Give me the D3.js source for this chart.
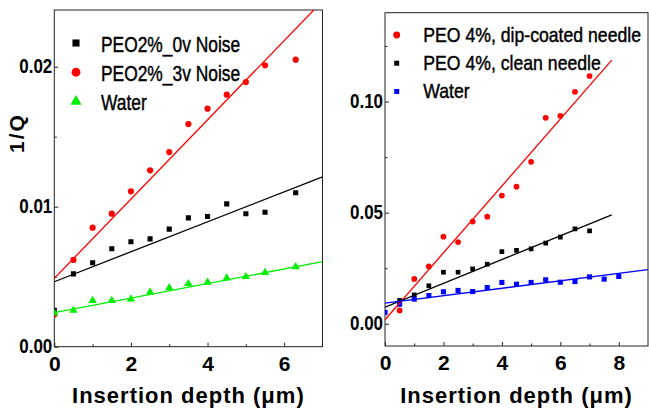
<!DOCTYPE html>
<html>
<head>
<meta charset="utf-8">
<script src="https://cdn.jsdelivr.net/npm/d3@7"></script>
<style>
  body { margin: 0; background: #fff; }
  svg { display: block; font-family: "Liberation Sans", Arial, sans-serif; }
</style>
</head>
<body>
<div class="chart"></div>
<script>
// ---- left panel data (PEO 2%) ----
var leftX = [0, 0.5, 1, 1.5, 2, 2.5, 3, 3.5, 4, 4.5, 5, 5.5, 6.3];
var peo2_0v = [0.0026, 0.0052, 0.0060, 0.0070, 0.0075, 0.0077, 0.0084, 0.0092, 0.0093, 0.0102, 0.0095, 0.0096, 0.0110];
var peo2_3v = [0.0023, 0.0062, 0.0085, 0.0095, 0.0111, 0.0126, 0.0139, 0.0159, 0.0170, 0.0180, 0.0189, 0.0201, 0.0205];
var water2 = [0.0024, 0.0026, 0.0033, 0.0033, 0.0034, 0.0039, 0.0042, 0.0045, 0.0046, 0.0049, 0.0050, 0.0053, 0.0057];
// fit lines: [intercept, slope, x end]
var fit2_0v = [0.00464, 0.00107, 7];
var fit2_3v = [0.00488, 0.00283, 7];
var fit2_w = [0.00243, 0.00052, 7];
var leftXTicks = [0, 2, 4, 6];
var leftYTicks = [0, 0.01, 0.02];
var leftLabels = ["PEO2%_0v Noise", "PEO2%_3v Noise", "Water"];

// ---- right panel data (PEO 4%) ----
var peoX = [0.5, 1, 1.5, 2, 2.5, 3, 3.5, 4, 4.5, 5, 5.5, 6, 6.5, 7];
var peo4_dip = [0.0060, 0.0202, 0.0258, 0.0392, 0.0368, 0.0460, 0.0482, 0.0577, 0.0617, 0.0729, 0.0927, 0.0936, 0.1044, 0.1115];
var peo4_clean = [0.0105, 0.0130, 0.0171, 0.0232, 0.0232, 0.0247, 0.0268, 0.0325, 0.0330, 0.0337, 0.0363, 0.0390, 0.0427, 0.0418];
var waterX = [0, 0.5, 1, 1.5, 2, 2.5, 3, 3.5, 4, 4.5, 5, 5.5, 6, 6.5, 7, 7.5, 8];
var water4 = [0.0051, 0.0088, 0.0111, 0.0127, 0.0144, 0.0150, 0.0145, 0.0163, 0.0186, 0.0178, 0.0186, 0.0198, 0.0187, 0.0190, 0.0211, 0.0201, 0.0213];
var fit4_dip = [0.0018, 0.01506, 7.76];
var fit4_clean = [0.0075, 0.00535, 7.76];
var fit4_w = [0.0093, 0.00167, 9];
var rightXTicks = [0, 2, 4, 6, 8];
var rightYTicks = [0, 0.05, 0.10];
var rightLabels = ["PEO 4%, dip-coated needle", "PEO 4%, clean needle", "Water"];

var xTitle = "Insertion depth (\u03bcm)";

var svg = d3.select('.chart')
  .append('svg')
	.attr('width', 649)
	.attr('height', 408);

// squash text horizontally, the original uses a tight condensed look
function squeeze(sel, k) {
  sel.each(function() {
	var w = this.getComputedTextLength();
	d3.select(this).attr('textLength', w * k).attr('lengthAdjust', 'spacingAndGlyphs');
  });
}

function panel(opt) {
  var x = d3.scaleLinear().domain(opt.xDomain).range(opt.xRange);
  var y = d3.scaleLinear().domain(opt.yDomain).range(opt.yRange);
  var g = svg.append('g');
  var clipId = 'clip' + opt.id;

  g.append('clipPath').attr('id', clipId)
	.append('rect')
	.attr('x', opt.xRange[0]).attr('y', opt.yRange[1])
	.attr('width', opt.xRange[1] - opt.xRange[0])
	.attr('height', opt.yRange[0] - opt.yRange[1]);

  // minor ticks
  g.append('g')
	.attr('transform', `translate(0, ${opt.yRange[0]})`)
	.call(d3.axisBottom(x).tickValues(opt.xMinor).tickSize(-2.5).tickFormat(''))
	.call(a => a.select('.domain').remove());
  g.append('g')
	.attr('transform', `translate(${opt.xRange[0]}, 0)`)
	.call(d3.axisLeft(y).tickValues(opt.yMinor).tickSize(-2.5).tickFormat(''))
	.call(a => a.select('.domain').remove());

  var xAxis = g.append('g')
	.attr('transform', `translate(0, ${opt.yRange[0]})`)
	.call(d3.axisBottom(x).tickValues(opt.xTicks).tickSize(-4).tickPadding(9).tickFormat(d3.format('d')));
  xAxis.select('.domain').remove();
  xAxis.selectAll('text')
	.attr('font-size', 21).attr('font-weight', 'bold').attr('fill', '#000')
	.attr('font-family', '"Liberation Sans", Arial, sans-serif');

  var yAxis = g.append('g')
	.attr('transform', `translate(${opt.xRange[0]}, 0)`)
	.call(d3.axisLeft(y).tickValues(opt.yTicks).tickSize(-4).tickPadding(2).tickFormat(d3.format('.2f')));
  yAxis.select('.domain').remove();
  yAxis.selectAll('text')
	.attr('font-size', 19.5).attr('font-weight', 'bold').attr('fill', '#000')
	.attr('font-family', '"Liberation Sans", Arial, sans-serif')
	.attr('dy', '0.3em')
	.call(squeeze, 0.87);
  g.selectAll('.tick line').attr('stroke', '#222');

  // box
  g.append('rect')
	.attr('x', opt.xRange[0]).attr('y', opt.yRange[1])
	.attr('width', opt.xRange[1] - opt.xRange[0])
	.attr('height', opt.yRange[0] - opt.yRange[1])
	.attr('fill', 'none').attr('stroke', '#222').attr('stroke-width', 1);

  var plot = g.append('g').attr('clip-path', `url(#${clipId})`);

  opt.series.forEach(function(s) {
	var pts = s.x.map((d, i) => [d, s.y[i]]);
	var sym = d3.symbol().type(s.shape).size(s.size);
	plot.selectAll(null)
	  .data(pts)
	  .enter()
	  .append('path')
	  .attr('d', sym)
	  .attr('transform', d => `translate(${x(d[0])}, ${y(d[1])})`)
	  .attr('fill', s.color);
  });

  opt.series.forEach(function(s) {
	var f = s.fit;
	plot.append('line')
	  .attr('x1', x(0)).attr('y1', y(f[0]))
	  .attr('x2', x(f[2])).attr('y2', y(f[0] + f[1] * f[2]))
	  .attr('stroke', s.color)
	  .attr('stroke-width', 1.3);
  });

  // legend
  opt.series.forEach(function(s, i) {
	var l = opt.legend;
	var sym = d3.symbol().type(s.shape).size(s.legendSize);
	g.append('path')
	  .attr('d', sym)
	  .attr('transform', `translate(${l.x}, ${l.y + i * l.dy - l.markerUp})`)
	  .attr('fill', s.color);
	g.append('text')
	  .attr('x', l.x + l.gap)
	  .attr('y', l.y + i * l.dy)
	  .attr('font-size', l.fontSize)
	  .attr('fill', '#000')
	  .attr('stroke', '#000')
	  .attr('stroke-width', 0.45)
	  .text(opt.labels[i])
	  .call(squeeze, l.squeeze);
  });

  g.append('text')
	.attr('x', (opt.xRange[0] + opt.xRange[1]) / 2)
	.attr('y', 402.5)
	.attr('text-anchor', 'middle')
	.attr('font-size', 22)
	.attr('font-weight', 'bold')
	.attr('letter-spacing', 1)
	.text(xTitle);

  return g;
}

panel({
  id: 'L',
  xDomain: [0, 7], xRange: [54.3, 322.5],
  yDomain: [0, 0.02405], yRange: [346.7, 10],
  xTicks: leftXTicks, xMinor: [1, 3, 5],
  yTicks: leftYTicks, yMinor: [0.005, 0.015],
  labels: leftLabels,
  legend: {x: 76, y: 51.5, dy: 29.2, gap: 25, markerUp: 8.5, fontSize: 22, squeeze: 0.79},
  series: [
	{x: leftX, y: peo2_0v, color: '#000', fit: fit2_0v, shape: d3.symbolSquare, size: 26, legendSize: 50},
	{x: leftX, y: peo2_3v, color: '#ff0000', fit: fit2_3v, shape: d3.symbolCircle, size: 30, legendSize: 62},
	{x: leftX, y: water2, color: '#00ee00', fit: fit2_w, shape: d3.symbolTriangle, size: 30, legendSize: 55}
  ]
});

panel({
  id: 'R',
  xDomain: [0, 9], xRange: [385, 648],
  yDomain: [-0.01, 0.14], yRange: [346, 12.7],
  xTicks: rightXTicks, xMinor: [1, 3, 5, 7],
  yTicks: rightYTicks, yMinor: [0.025, 0.075, 0.125],
  labels: rightLabels,
  legend: {x: 396.7, y: 41.7, dy: 28.3, gap: 26.6, markerUp: 6.8, fontSize: 21, squeeze: 0.84},
  series: [
	{x: peoX, y: peo4_dip, color: '#ff0000', fit: fit4_dip, shape: d3.symbolCircle, size: 26, legendSize: 38},
	{x: peoX, y: peo4_clean, color: '#000', fit: fit4_clean, shape: d3.symbolSquare, size: 22, legendSize: 25},
	{x: waterX, y: water4, color: '#0000ff', fit: fit4_w, shape: d3.symbolSquare, size: 26, legendSize: 25}
  ]
});

// y title, left panel
svg.append('text')
  .attr('transform', 'translate(24, 133) rotate(-90)')
  .attr('text-anchor', 'middle')
  .attr('font-size', 21)
  .attr('font-weight', 'bold')
  .attr('letter-spacing', 2)
  .text('1/Q');
</script>
</body>
</html>
